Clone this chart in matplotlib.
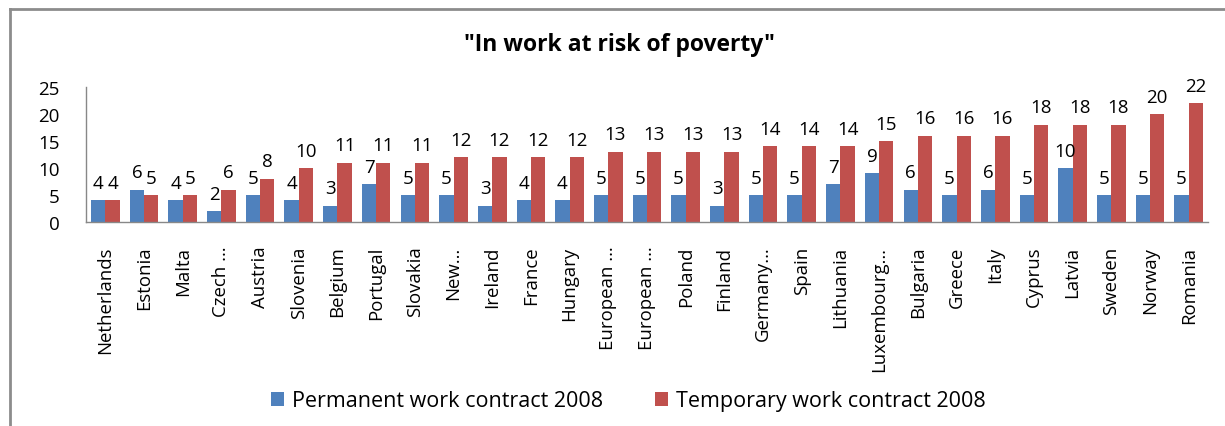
import matplotlib.pyplot as plt
from matplotlib.lines import Line2D
import numpy as np

plt.rcParams['font.family'] = ['Open Sans', 'DejaVu Sans']

# Data
countries = ['Netherlands', 'Estonia', 'Malta', 'Czech …', 'Austria', 'Slovenia',
             'Belgium', 'Portugal', 'Slovakia', 'New…', 'Ireland', 'France',
             'Hungary', 'European …', 'European …', 'Poland', 'Finland',
             'Germany…', 'Spain', 'Lithuania', 'Luxembourg…', 'Bulgaria',
             'Greece', 'Italy', 'Cyprus', 'Latvia', 'Sweden', 'Norway', 'Romania']
permanent = [4, 6, 4, 2, 5, 4, 3, 7, 5, 5, 3, 4, 4, 5, 5, 5, 3, 5, 5, 7, 9,
             6, 5, 6, 5, 10, 5, 5, 5]
temporary = [4, 5, 5, 6, 8, 10, 11, 11, 11, 12, 12, 12, 12, 13, 13, 13, 13,
             14, 14, 14, 15, 16, 16, 16, 18, 18, 18, 20, 22]

fig = plt.figure(figsize=(12.25, 4.27), dpi=100)
ax = fig.add_axes([86 / 1225, 1 - 223 / 427, (1208 - 86) / 1225, (223 - 88) / 427])

x = np.arange(len(countries))
w = 0.37
b1 = ax.bar(x - w / 2, permanent, w, color='#4F81BD', label='Permanent work contract 2008')
b2 = ax.bar(x + w / 2, temporary, w, color='#C0504D', label='Temporary work contract 2008')
ax.bar_label(b1, padding=6, fontsize=13.5)
ax.bar_label(b2, padding=6, fontsize=13.5)

ax.set_xlim(-0.5, len(countries) - 0.5)
ax.set_ylim(0, 25)
ax.set_yticks([0, 5, 10, 15, 20, 25])
ax.set_xticks(x)
ax.set_xticklabels(countries, rotation=90, fontsize=13.4)
ax.tick_params(axis='y', length=0, pad=19, labelsize=13.5)
ax.tick_params(axis='x', length=0, pad=17)

for s in ['top', 'right']:
    ax.spines[s].set_visible(False)
for s in ['left', 'bottom']:
    ax.spines[s].set_color('#888888')
    ax.spines[s].set_linewidth(1)

fig.text(0.506, 1 - 45 / 427, '"In work at risk of poverty"', ha='center', va='center',
         fontsize=16.5, fontweight='bold')

fig.legend(loc='center', bbox_to_anchor=(0.513, 1 - 402 / 427), ncol=2, frameon=False,
           fontsize=15.5, handlelength=0.6, handleheight=0.6, handletextpad=0.4,
           columnspacing=2.4)

# chart frame
fig.add_artist(Line2D([10 / 1225, 1], [1 - 10 / 427] * 2, color='#8c8c8c', lw=2))
fig.add_artist(Line2D([10 / 1225] * 2, [0, 1 - 10 / 427], color='#8c8c8c', lw=2))

fig.savefig('out.png', dpi=100)
